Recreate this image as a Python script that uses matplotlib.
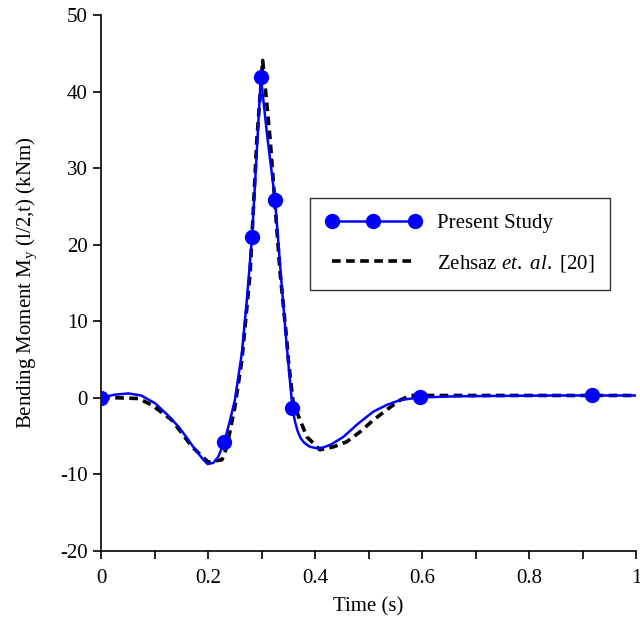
import numpy as np
import matplotlib
matplotlib.use("Agg")
from matplotlib import pyplot as plt
from matplotlib.lines import Line2D
from matplotlib.ticker import MultipleLocator

plt.rcParams["font.family"] = ["Liberation Serif", "DejaVu Serif"]
plt.rcParams["mathtext.fontset"] = "custom"
plt.rcParams["mathtext.rm"] = "Liberation Serif"
plt.rcParams["mathtext.it"] = "Liberation Serif:italic"
plt.rcParams["axes.unicode_minus"] = False

# present study (smooth curve)
present_t = [0.0, 0.025, 0.051, 0.075, 0.101, 0.125, 0.145, 0.162, 0.176, 0.19, 0.199,
             0.21, 0.219, 0.23, 0.24, 0.25, 0.263, 0.272, 0.282, 0.29, 0.2985,
             0.31, 0.325, 0.336, 0.346, 0.3576, 0.362, 0.367, 0.373, 0.38, 0.39, 0.403,
             0.415, 0.43, 0.453, 0.48, 0.509, 0.535, 0.559, 0.596, 0.671, 0.75, 0.85,
             0.918, 1.0]
present_m = [0.0, 0.4, 0.57, 0.3, -0.73, -2.3, -3.8, -5.4, -6.8, -8.0, -8.67,
             -8.5, -7.7, -5.8, -3.2, -0.3, 5.8, 12.5, 21.0, 31.0, 42.0,
             34.5, 25.9, 16.0, 7.5, -1.3, -3.0, -4.3, -5.3, -5.9, -6.4, -6.6,
             -6.5, -6.1, -5.1, -3.4, -1.8, -0.9, -0.3, 0.05, 0.2, 0.25, 0.3,
             0.3, 0.3]

# marker locations of the present study
marker_t = [0.0, 0.230, 0.282, 0.2985, 0.325, 0.3576, 0.596, 0.918]
marker_m = [0.0, -5.8, 21.0, 42.0, 25.9, -1.3, 0.05, 0.3]

# Zehsaz et al. [20]
ref_t = [0.0, 0.03, 0.07, 0.095, 0.132, 0.17, 0.2, 0.226, 0.235, 0.25, 0.263,
         0.2785, 0.291, 0.302, 0.316, 0.3346, 0.347, 0.35, 0.359, 0.3845, 0.409,
         0.435, 0.459, 0.485, 0.509, 0.535, 0.559, 0.578, 0.7, 0.85, 1.0]
ref_m = [0.0, 0.0, -0.1, -0.95, -2.9, -6.4, -8.4, -8.1, -6.4, -1.2, 4.9,
         16.3, 33.7, 44.1, 33.7, 16.3, 7.5, 4.9, -0.7, -5.1, -6.8,
         -6.4, -5.75, -4.4, -2.9, -1.5, -0.3, 0.3, 0.3, 0.3, 0.3]

fig = plt.figure(figsize=(6.4, 6.28), dpi=100)
ax = fig.add_axes([0.158, 0.123, 0.836, 0.8526])

ax.plot(ref_t, ref_m, color="black", lw=2.6, dashes=(2.4, 1.5), zorder=2)
ax.plot(present_t, present_m, color="#0000ff", lw=1.8, zorder=3)
ax.plot(marker_t, marker_m, ls="none", marker="o", ms=10, color="#0000ff", zorder=4)

ax.set_xlim(0, 1)
ax.set_ylim(-20, 50)
ax.xaxis.set_major_locator(MultipleLocator(0.2))
ax.xaxis.set_minor_locator(MultipleLocator(0.1))
ax.yaxis.set_major_locator(MultipleLocator(10))
ax.xaxis.set_major_formatter(lambda v, p: "0" if abs(v) < 1e-9 else ("1" if abs(v - 1) < 1e-9 else f"{v:.1f}"))
ax.yaxis.set_major_formatter(lambda v, p: f"{v:.0f}")
ax.tick_params(which="both", direction="out", length=6, width=1.2, labelsize=15)
ax.tick_params(axis="x", pad=7)
ax.spines["top"].set_visible(False)
ax.spines["right"].set_visible(False)
for s in ("left", "bottom"):
    ax.spines[s].set_linewidth(1.2)

ax.set_xlabel("Time (s)", fontsize=15, labelpad=7)
ax.set_ylabel(r"Bending Moment M$_\mathrm{y}$ (l/2,t) (kNm)", fontsize=15, labelpad=15)

handles = [
    Line2D([], [], color="#0000ff", lw=1.8, marker="o", ms=10),
    Line2D([], [], color="black", lw=2.6, dashes=(2.4, 1.5)),
]
labels = ["Present Study", r"Zehsaz $et.$ $al.$ [20]"]
leg = ax.legend(handles, labels, loc="upper left", bbox_to_anchor=(0.39, 0.659),
                numpoints=3, handlelength=4.6, fontsize=15, frameon=True,
                fancybox=False, edgecolor="black", borderpad=0.75, labelspacing=0.95,
                handletextpad=0.75, borderaxespad=0)
leg.get_frame().set_linewidth(1.0)

fig.savefig("out.png", dpi=100)
